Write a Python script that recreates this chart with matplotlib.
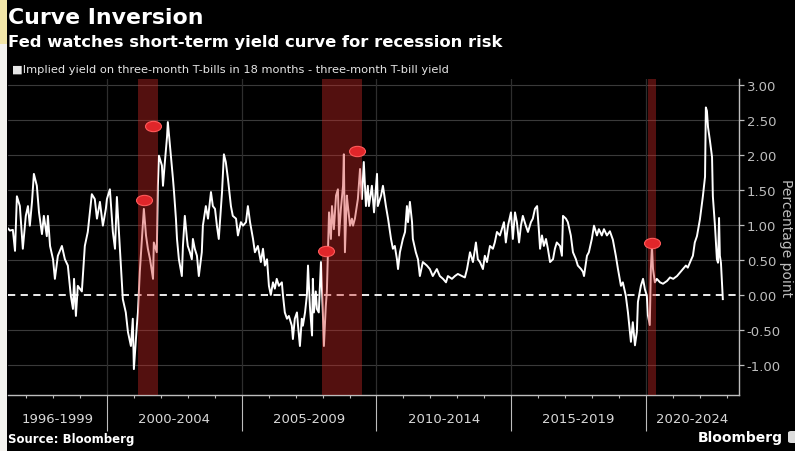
import numpy as np
import matplotlib
matplotlib.use("Agg")
import matplotlib.pyplot as plt
from matplotlib.path import Path
from matplotlib.transforms import Affine2D, blended_transform_factory
import matplotlib.patches as mpatches

# ---------------- data ----------------
years = [
    1996.33, 1996.40, 1996.51, 1996.59, 1996.66, 1996.77, 1996.88, 1996.99, 1997.07, 1997.14,
    1997.22, 1997.29, 1997.40, 1997.48, 1997.59, 1997.66, 1997.77, 1997.81, 1997.89, 1998.00,
    1998.07, 1998.18, 1998.33, 1998.44, 1998.55, 1998.66, 1998.74, 1998.78, 1998.85, 1998.92,
    1999.07, 1999.18, 1999.29, 1999.44, 1999.55, 1999.63, 1999.74, 1999.85, 1999.96, 2000.00,
    2000.11, 2000.22, 2000.30, 2000.37, 2000.48, 2000.52, 2000.59, 2000.70, 2000.78, 2000.89,
    2000.96, 2001.00, 2001.11, 2001.15, 2001.22, 2001.30, 2001.37, 2001.45, 2001.52, 2001.60,
    2001.67, 2001.71, 2001.74, 2001.85, 2001.89, 2001.93, 2002.04, 2002.08, 2002.15, 2002.23,
    2002.26, 2002.34, 2002.41, 2002.45, 2002.49, 2002.56, 2002.60, 2002.67, 2002.78, 2002.82,
    2002.89, 2002.97, 2003.00, 2003.08, 2003.15, 2003.19, 2003.26, 2003.34, 2003.41, 2003.52,
    2003.56, 2003.67, 2003.75, 2003.86, 2003.93, 2004.01, 2004.08, 2004.15, 2004.27, 2004.34,
    2004.41, 2004.49, 2004.60, 2004.67, 2004.79, 2004.86, 2004.97, 2005.05, 2005.16, 2005.23,
    2005.31, 2005.42, 2005.49, 2005.60, 2005.71, 2005.79, 2005.86, 2005.94, 2006.01, 2006.08,
    2006.16, 2006.23, 2006.30, 2006.38, 2006.49, 2006.53, 2006.60, 2006.68, 2006.75, 2006.86,
    2006.90, 2006.97, 2007.05, 2007.09, 2007.16, 2007.23, 2007.27, 2007.35, 2007.42, 2007.46,
    2007.53, 2007.61, 2007.64, 2007.68, 2007.75, 2007.79, 2007.86, 2007.94, 2008.01, 2008.05,
    2008.12, 2008.16, 2008.24, 2008.31, 2008.35, 2008.42, 2008.50, 2008.57, 2008.61, 2008.68,
    2008.76, 2008.79, 2008.83, 2008.90, 2008.94, 2009.02, 2009.09, 2009.13, 2009.20, 2009.27,
    2009.31, 2009.39, 2009.46, 2009.53, 2009.61, 2009.68, 2009.72, 2009.83, 2009.91, 2010.02,
    2010.05, 2010.17, 2010.24, 2010.35, 2010.43, 2010.54, 2010.61, 2010.68, 2010.76, 2010.80,
    2010.87, 2010.98, 2011.06, 2011.13, 2011.17, 2011.24, 2011.32, 2011.35, 2011.46, 2011.54,
    2011.61, 2011.72, 2011.87, 2011.98, 2012.09, 2012.24, 2012.35, 2012.47, 2012.58, 2012.65,
    2012.80, 2012.91, 2013.02, 2013.17, 2013.28, 2013.36, 2013.47, 2013.58, 2013.69, 2013.76,
    2013.84, 2013.95, 2014.02, 2014.10, 2014.21, 2014.32, 2014.39, 2014.47, 2014.58, 2014.69,
    2014.73, 2014.80, 2014.88, 2014.99, 2015.06, 2015.14, 2015.21, 2015.29, 2015.36, 2015.43,
    2015.54, 2015.62, 2015.73, 2015.80, 2015.88, 2015.96, 2016.03, 2016.07, 2016.14, 2016.21,
    2016.29, 2016.36, 2016.44, 2016.55, 2016.62, 2016.69, 2016.81, 2016.88, 2016.92, 2017.03,
    2017.10, 2017.21, 2017.29, 2017.40, 2017.47, 2017.59, 2017.66, 2017.70, 2017.81, 2017.88,
    2017.99, 2018.07, 2018.18, 2018.25, 2018.36, 2018.44, 2018.55, 2018.66, 2018.77, 2018.88,
    2018.96, 2019.07, 2019.14, 2019.25, 2019.33, 2019.44, 2019.51, 2019.59, 2019.66, 2019.70,
    2019.81, 2019.89, 2019.96, 2020.03, 2020.07, 2020.14, 2020.18, 2020.22, 2020.26, 2020.33,
    2020.40, 2020.52, 2020.63, 2020.78, 2020.89, 2021.01, 2021.15, 2021.26, 2021.37, 2021.48,
    2021.55, 2021.67, 2021.74, 2021.81, 2021.89, 2022.00, 2022.11, 2022.19, 2022.22, 2022.26,
    2022.30, 2022.37, 2022.45, 2022.48, 2022.56, 2022.63, 2022.67, 2022.71, 2022.74, 2022.78,
    2022.85,
]
spread = [
    0.95, 0.92, 0.93, 0.63, 1.41, 1.27, 0.66, 1.13, 1.27, 0.99,
    1.33, 1.73, 1.56, 1.18, 0.87, 1.13, 0.84, 1.13, 0.70, 0.51,
    0.23, 0.56, 0.70, 0.51, 0.42, -0.01, -0.20, 0.23, -0.30, 0.13,
    0.05, 0.70, 0.90, 1.44, 1.37, 1.09, 1.33, 0.99, 1.23, 1.37,
    1.51, 0.90, 0.66, 1.40, 0.66, 0.37, -0.06, -0.25, -0.53, -0.73,
    -0.34, -1.06, -0.44, -0.25, 0.33, 0.80, 1.23, 0.85, 0.66, 0.51,
    0.33, 0.23, 0.75, 0.61, 1.56, 1.99, 1.85, 1.56, 1.90, 2.26,
    2.47, 2.13, 1.85, 1.66, 1.47, 1.09, 0.80, 0.51, 0.27, 0.70,
    1.13, 0.80, 0.70, 0.61, 0.51, 0.80, 0.66, 0.56, 0.27, 0.61,
    0.99, 1.27, 1.09, 1.47, 1.27, 1.23, 0.99, 0.80, 1.47, 2.01,
    1.90, 1.66, 1.27, 1.13, 1.09, 0.85, 1.04, 0.99, 1.04, 1.27,
    1.04, 0.80, 0.61, 0.70, 0.47, 0.66, 0.42, 0.51, 0.13, 0.00,
    0.18, 0.09, 0.23, 0.13, 0.18, 0.00, -0.25, -0.34, -0.30, -0.44,
    -0.63, -0.34, -0.25, -0.44, -0.73, -0.34, -0.44, -0.25, 0.00, 0.42,
    -0.16, -0.58, 0.23, -0.25, 0.05, -0.20, -0.25, 0.47, -0.25, -0.73,
    -0.16, 0.05, 1.18, 0.80, 1.27, 0.94, 1.42, 1.51, 0.85, 1.23,
    1.56, 2.01, 0.61, 1.42, 1.27, 0.99, 1.09, 0.99, 1.09, 1.27,
    1.37, 1.80, 1.37, 1.90, 1.27, 1.56, 1.27, 1.56, 1.18, 1.73,
    1.27, 1.42, 1.56, 1.27, 1.09, 0.80, 0.66, 0.70, 0.51, 0.37,
    0.61, 0.80, 0.90, 1.27, 1.04, 1.33, 1.04, 0.80, 0.61, 0.51,
    0.27, 0.47, 0.42, 0.37, 0.27, 0.37, 0.27, 0.23, 0.18, 0.27,
    0.23, 0.27, 0.30, 0.27, 0.25, 0.37, 0.61, 0.47, 0.75, 0.51,
    0.47, 0.37, 0.56, 0.47, 0.70, 0.66, 0.75, 0.90, 0.85, 0.99,
    1.04, 0.75, 0.99, 1.18, 0.80, 1.18, 1.04, 0.75, 0.99, 1.13,
    0.99, 0.90, 1.04, 1.09, 1.23, 1.27, 0.90, 0.66, 0.85, 0.70,
    0.80, 0.66, 0.47, 0.51, 0.66, 0.75, 0.70, 0.56, 1.13, 1.09,
    1.04, 0.85, 0.61, 0.51, 0.42, 0.37, 0.33, 0.27, 0.56, 0.61,
    0.80, 0.99, 0.85, 0.94, 0.85, 0.94, 0.85, 0.91, 0.79, 0.56,
    0.37, 0.13, 0.18, -0.01, -0.25, -0.67, -0.39, -0.72, -0.53, -0.10,
    0.13, 0.23, 0.08, -0.01, -0.29, -0.43, 0.37, 0.70, 0.37, 0.18,
    0.23, 0.18, 0.16, 0.20, 0.25, 0.23, 0.27, 0.32, 0.37, 0.42,
    0.39, 0.50, 0.56, 0.75, 0.84, 1.08, 1.41, 1.69, 2.68, 2.63,
    2.40, 2.21, 1.97, 1.41, 0.98, 0.51, 0.46, 1.10, 0.56, 0.46,
    -0.06,
]

# recessions (start, end) in decimal years
recession_starts = [2001.17, 2007.97, 2020.08]
recession_ends = [2001.89, 2009.48, 2020.36]

# red annotation markers
event_years = [2001.37, 2001.71, 2008.12, 2009.27, 2020.22]
event_values = [1.36, 2.41, 0.63, 2.06, 0.74]

period_edges = [1996.33, 2000, 2005, 2010, 2015, 2020, 2023.45]
period_labels = ["1996-1999", "2000-2004", "2005-2009", "2010-2014", "2015-2019", "2020-2024"]
y_ticks = [-1.0, -0.5, 0.0, 0.5, 1.0, 1.5, 2.0, 2.5, 3.0]

# ---------------- figure ----------------
W, H = 795, 452
fig = plt.figure(figsize=(W / 100, H / 100), dpi=100, facecolor="black")

# screenshot edge strips
fig.patches.append(mpatches.Rectangle((0, 0), 7 / W, 1, transform=fig.transFigure,
                                      facecolor="#f4f3ef", edgecolor="none", zorder=0))
fig.patches.append(mpatches.Rectangle((0, 1 - 45 / H), 7 / W, 45 / H, transform=fig.transFigure,
                                      facecolor="#f3e7a8", edgecolor="none", zorder=0))

ax = fig.add_axes([8 / W, 1 - 396 / H, (739 - 8) / W, (396 - 80) / H])
ax.set_facecolor("black")
ax.set_xlim(period_edges[0], period_edges[-1])
ax.set_ylim(-1.43, 3.086)

grey = "#bdbdbd"
# horizontal grid
for v in y_ticks:
    if v != 0:
        ax.axhline(v, color="#3a3a3a", lw=0.8, zorder=1)
ax.axhline(0, color="white", lw=1.3, ls=(0, (4, 3)), zorder=2)
# vertical grid at period separators
for e in period_edges[1:-1]:
    ax.axvline(e, color="#2e2e2e", lw=0.9, zorder=1)

ax.plot(years, spread, color="white", lw=1.4, zorder=3)

for s, e in zip(recession_starts, recession_ends):
    ax.axvspan(s, e, color="#d22a26", alpha=0.40, lw=0, zorder=4)

ell = Path.unit_circle().transformed(Affine2D().scale(1.55, 1.0))
ax.plot(event_years, event_values, ls="none", marker=ell, ms=11.5,
        mfc="#e0262a", mec="#ff5a5a", mew=0.8, zorder=5)

# spines
for side in ["top", "left"]:
    ax.spines[side].set_visible(False)
ax.spines["right"].set_color(grey)
ax.spines["bottom"].set_color(grey)
ax.spines["right"].set_linewidth(1.0)
ax.spines["bottom"].set_linewidth(1.0)

ax.yaxis.tick_right()
ax.set_yticks(y_ticks)
ax.set_yticklabels([f"{v:.2f}" for v in y_ticks])
ax.tick_params(axis="y", colors=grey, labelcolor=grey, labelsize=9.5, length=3.5,
               width=0.9, pad=2, direction="out")

ax.set_xticks(period_edges[1:-1])
ax.set_xticklabels([])
ax.set_xticks(list(range(1997, 2024)), minor=True)
ax.tick_params(axis="x", which="major", colors=grey, length=26, width=0.8, direction="out")
ax.tick_params(axis="x", which="minor", colors=grey, length=2.5, width=0.8, direction="out")

trans = blended_transform_factory(ax.transData, fig.transFigure)
for a, b, lab in zip(period_edges[:-1], period_edges[1:], period_labels):
    ax.text((a + b) / 2, 1 - 420 / H, lab, transform=trans, ha="center", va="center",
            color="#d8d8d8", fontsize=9.5, clip_on=False)

fig.text(786 / W, 1 - 238 / H, "Percentage point", rotation=270, ha="center", va="center",
         color=grey, fontsize=10)

# titles
fig.text(8 / W, 1 - 18 / H, "Curve Inversion", ha="left", va="center", color="white",
         fontsize=15.8, fontweight="bold")
fig.text(8 / W, 1 - 43 / H, "Fed watches short-term yield curve for recession risk",
         ha="left", va="center", color="white", fontsize=11.8, fontweight="bold")
fig.text(12 / W, 1 - 70 / H,
         "\u25A0Implied yield on three-month T-bills in 18 months - three-month T-bill yield",
         ha="left", va="center", color="#e6e6e6", fontsize=8.2)

fig.text(8 / W, 1 - 440 / H, "Source: Bloomberg", ha="left", va="center", color="white",
         fontsize=8.5, fontweight="bold")
fig.text(783 / W, 1 - 438 / H, "Bloomberg", ha="right", va="center", color="white",
         fontsize=10, fontweight="bold")
fig.patches.append(mpatches.FancyBboxPatch((788 / W, 1 - 444 / H), 10 / W, 12 / H,
                                           boxstyle="round,pad=0,rounding_size=0.004",
                                           transform=fig.transFigure, facecolor="#dcdcdc",
                                           edgecolor="none", zorder=1))

fig.savefig("out.png", dpi=100, facecolor="black")
